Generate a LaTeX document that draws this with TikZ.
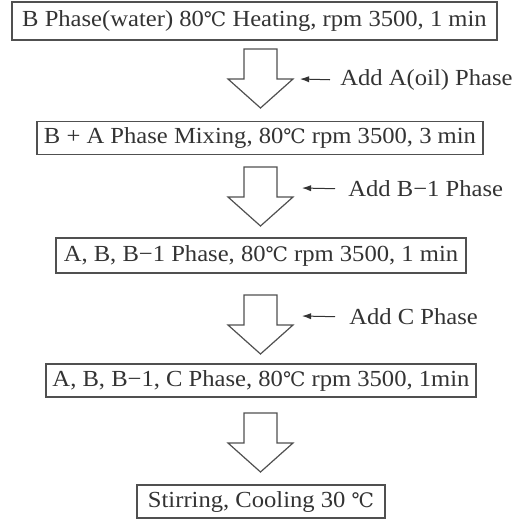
\documentclass[tikz,border=0pt]{standalone}
\usepackage{fontspec}
\setmainfont[FakeStretch=1.07]{Liberation Serif}
\newfontfamily\symfont{DejaVu Serif}
\usetikzlibrary{arrows.meta, positioning}
\definecolor{inkgray}{HTML}{333333}
\definecolor{boxgray}{HTML}{505050}
\newcommand{\degC}{{\symfont\fontsize{10pt}{12pt}\selectfont ℃}}
\tikzset{
  stepbox/.style={draw=boxgray, line width=0.6pt, inner sep=0pt, minimum height=16.5pt,
    font=\fontsize{11.5pt}{13pt}\selectfont, text=inkgray},
  blockarr/.style={draw=boxgray, line width=0.6pt, fill=white, line join=miter},
  addarr/.style={-{Latex[length=1.6mm, width=1.1mm]}, draw=inkgray, line width=0.5pt},
  addlbl/.style={font=\fontsize{11.5pt}{13pt}\selectfont, text=inkgray, inner sep=0pt, anchor=west},
  pics/downarrow/.style={code={
    \draw[blockarr] (-16.5,0) -- (16.5,0) -- (16.5,30) -- (32.5,30) -- (0,59)
      -- (-32.5,30) -- (-16.5,30) -- cycle;}}
}
\begin{document}
\begin{tikzpicture}[x=0.5pt, y=-0.5pt]
\useasboundingbox (0,0) rectangle (519,521);
% process steps
\node[stepbox, minimum width=242.5pt, minimum height=19pt] (heat) at (254.5,21)
  {B Phase(water) 80\degC{} Heating, rpm 3500, 1 min};
\node[stepbox, minimum width=223pt] (mix) at (260,138)
  {B + A Phase Mixing, 80\degC{} rpm 3500, 3 min};
\node[stepbox, minimum width=205pt, minimum height=17.5pt] (abb) at (261,255.5)
  {A, B, B−1 Phase, 80\degC{} rpm 3500, 1 min};
\node[stepbox, minimum width=215pt] (abbc) at (261,380.5)
  {A, B, B−1, C Phase, 80\degC{} rpm 3500, 1min};
\node[stepbox, minimum width=124pt] (cool) at (261,501.5)
  {Stirring, Cooling 30 \degC};
% block arrows
\pic (arrA) at (260.5,49) {downarrow};
\pic (arrB) at (260.5,167) {downarrow};
\pic (arrC) at (260.5,295) {downarrow};
\pic (arrD) at (260.5,413) {downarrow};
% additions
\coordinate (inA) at (300,79);
\coordinate (inB) at (302,188);
\coordinate (inC) at (302,316);
\node[addlbl] (addA) at (340,80) {Add A(oil) Phase};
\node[addlbl] (addB) at (348,189) {Add B−1 Phase};
\node[addlbl] (addC) at (349,317) {Add C Phase};
\draw[addarr, shorten <=5pt] (addA.west) -- (inA);
\draw[addarr, shorten <=6.5pt] (addB.west) -- (inB);
\draw[addarr, shorten <=7pt] (addC.west) -- (inC);
\end{tikzpicture}
\end{document}
